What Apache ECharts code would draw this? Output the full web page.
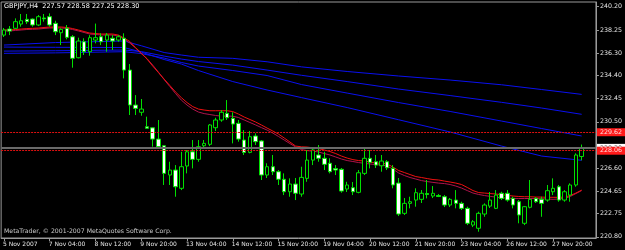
<!DOCTYPE html>
<html><head><meta charset="utf-8">
<script src="https://cdn.jsdelivr.net/npm/echarts@6/dist/echarts.min.js"></script>
<style>html,body{margin:0;padding:0;background:#000}#c{width:625px;height:250px}</style>
</head><body><div id="c"></div>
<script>
const titleText = 'GBPJPY,H4  227.57 228.58 227.25 228.30';
const copyrightText = 'MetaTrader, \u00A9 2001-2007 MetaQuotes Software Corp.';
const tickLabels = ['5 Nov 2007','7 Nov 04:00','8 Nov 12:00','9 Nov 20:00','13 Nov 04:00','14 Nov 12:00','15 Nov 20:00','19 Nov 04:00','20 Nov 12:00','21 Nov 20:00','23 Nov 04:00','26 Nov 12:00','27 Nov 20:00'];
const tickStep = 8;
const emptyBarsRight = 2;
const yTicks = [240.20, 238.25, 236.30, 234.40, 232.45, 230.50, 226.60, 224.65, 222.75, 220.80];
const yMin = 220.70, yMax = 240.60;
const bidLevel = 228.30, resLevel = 229.62, supLevel = 228.06;

const opens = [237.81,238.32,238.38,238.74,239.14,239.16,238.66,239.25,239.36,238.80,238.01,238.38,237.67,235.90,237.25,236.41,237.39,237.67,237.39,237.54,237.39,237.54,234.86,231.91,231.30,230.08,229.99,229.04,228.48,226.01,226.43,224.89,226.77,227.97,227.33,228.48,228.60,230.00,230.65,231.21,230.79,230.37,228.96,227.92,229.30,228.88,226.01,226.71,226.29,225.65,224.60,225.25,224.41,225.73,227.27,227.70,227.42,227.00,226.56,226.49,224.83,224.94,224.55,226.15,227.42,227.13,226.79,227.13,226.57,225.33,222.78,223.62,223.90,223.96,224.45,224.24,224.28,224.18,223.48,223.90,223.62,223.20,221.79,221.52,222.72,223.39,223.20,224.47,224.47,224.04,223.76,221.94,223.29,224.04,223.96,223.90,224.60,225.02,223.90,224.32,225.17,227.57];
const highs = [238.41,238.57,239.22,239.59,239.59,239.22,239.50,239.59,239.64,239.02,238.38,238.66,237.81,237.59,237.54,237.81,238.78,237.96,237.98,237.81,237.81,237.96,235.37,232.75,232.42,230.93,230.00,230.65,228.54,227.13,226.85,227.97,228.12,228.96,228.96,228.96,230.31,230.84,231.49,232.33,231.30,230.65,229.80,229.72,229.52,228.96,227.00,227.70,226.43,226.15,225.73,225.76,226.71,228.12,228.26,228.54,227.97,227.42,226.85,226.60,225.44,225.42,226.43,228.26,228.12,227.70,227.70,227.27,226.85,225.76,224.07,224.18,224.89,224.74,225.59,225.08,224.41,224.32,224.07,224.74,223.76,223.34,222.21,222.92,223.62,224.58,224.74,224.60,224.74,224.18,223.90,223.40,225.59,224.15,224.18,225.17,225.73,225.17,224.74,225.31,227.84,228.58];
const lows = [237.65,237.81,238.32,238.52,238.74,238.52,238.57,238.94,238.52,237.81,236.97,237.45,235.06,235.85,236.13,236.07,237.11,236.97,236.41,236.55,237.25,234.16,231.07,231.07,231.01,229.89,228.40,228.26,225.17,225.17,224.18,224.74,226.15,226.57,227.13,228.31,228.45,229.72,230.50,230.65,228.68,228.82,227.70,227.84,228.54,225.59,225.76,226.01,225.17,224.32,224.18,223.90,224.18,225.44,226.85,227.13,226.43,226.15,226.01,224.52,224.58,224.32,224.47,226.01,226.57,226.60,226.29,226.43,224.89,222.55,222.64,223.20,223.34,223.65,224.04,224.07,224.15,223.31,223.31,223.20,223.06,221.79,221.62,221.23,222.49,223.23,223.14,223.90,223.76,223.20,221.94,221.79,223.20,223.65,222.49,223.76,224.32,223.76,223.76,223.76,225.02,227.25];
const closes = [238.24,238.15,238.94,239.02,238.94,238.66,239.36,239.18,238.66,238.09,238.29,237.62,235.85,237.31,236.41,237.59,237.59,237.25,237.81,237.31,237.67,234.86,231.91,231.63,231.57,229.95,229.04,228.40,226.15,226.43,225.02,226.71,227.97,227.33,228.40,228.68,230.23,230.65,231.30,230.84,230.31,229.04,227.92,229.24,228.82,226.01,226.71,226.29,225.65,224.60,225.25,224.47,225.81,227.27,228.12,227.42,226.91,226.29,226.43,224.66,225.17,224.60,226.20,227.42,227.08,226.85,227.19,226.62,225.17,222.72,223.62,223.76,224.52,224.47,224.37,224.47,224.20,223.48,223.96,223.62,223.20,221.94,222.07,222.78,223.48,223.90,224.32,224.04,223.90,223.48,222.64,223.34,223.96,223.76,223.62,224.69,224.89,223.90,224.60,225.17,227.70,228.30];

const maRedFast = [238.24,238.24,238.28,238.32,238.36,238.38,238.40,238.45,238.49,238.49,238.49,238.45,238.36,238.24,238.11,237.98,237.94,237.90,237.90,237.90,237.81,237.56,237.27,236.76,236.30,235.79,235.20,234.65,234.10,233.56,233.01,232.54,232.12,231.78,231.57,231.49,231.43,231.43,231.43,231.43,231.36,231.15,230.90,230.69,230.48,230.23,229.97,229.72,229.46,229.13,228.79,228.45,228.39,228.37,228.30,228.24,228.12,227.99,227.82,227.61,227.44,227.31,227.23,227.19,227.11,227.02,227.00,226.94,226.68,226.39,226.22,226.05,225.88,225.80,225.71,225.63,225.59,225.50,225.42,225.33,225.21,224.96,224.70,224.53,224.49,224.45,224.41,224.35,224.30,224.24,224.20,224.18,224.18,224.15,224.15,224.13,224.13,224.13,224.15,224.28,224.49,224.74];
const maRedSlow = [238.16,238.16,238.20,238.24,238.28,238.30,238.32,238.37,238.41,238.41,238.41,238.37,238.28,238.16,238.03,237.90,237.86,237.82,237.82,237.82,237.73,237.48,237.14,236.72,236.25,235.83,235.28,234.69,234.06,233.47,232.88,232.33,231.91,231.57,231.32,231.19,231.11,231.03,230.98,230.98,230.97,230.86,230.65,230.44,230.23,230.01,229.80,229.55,229.26,228.96,228.66,228.37,228.16,228.07,228.03,227.95,227.82,227.70,227.53,227.36,227.23,227.15,227.06,227.00,226.94,226.89,226.85,226.77,226.51,226.18,225.97,225.80,225.67,225.54,225.46,225.39,225.33,225.29,225.21,225.08,224.91,224.70,224.49,224.37,224.28,224.21,224.15,224.09,224.07,224.04,224.03,224.03,224.03,224.03,224.01,223.99,223.96,223.99,224.04,224.20,224.45,224.70];

const blueIdx = [0,9,21,24,28,31,34,40,46,52,60,69,78,87,94,101];
const maBlue1 = [236.97,237.18,237.31,236.91,236.34,236.13,235.94,235.85,235.56,235.13,234.74,234.36,234.02,233.62,233.22,232.81];
const maBlue2 = [236.46,236.49,236.55,236.42,236.04,235.79,235.58,235.28,234.86,234.42,233.89,233.26,232.71,232.14,231.66,231.13];
const maBlue3 = [236.27,236.31,236.41,236.25,235.87,235.50,235.20,234.82,234.40,233.64,232.92,232.12,231.37,230.56,229.93,229.30];
const maBlue4 = [236.80,236.78,236.76,236.38,235.75,235.37,234.82,233.89,233.18,232.54,231.70,230.67,229.64,228.45,227.61,227.25];

const FONT = 'DejaVu Sans';
const nCat = opens.length + emptyBarsRight;
const cats = Array.from({length: nCat}, (_, i) => String(i));
const isTick = i => i % tickStep === 0 && i / tickStep < tickLabels.length;
const candles = opens.map((o, i) => [o, closes[i], lows[i], highs[i]]);
const bluePairs = arr => blueIdx.map((b, k) => [b, arr[k]]);

const lineS = (name, data, color, z) => ({
  type: 'line', name, data, symbol: 'none', connectNulls: true, silent: true, z,
  lineStyle: {color, width: 1}, animation: false
});

const priceLabel = (bg, fg) => ({
  show: true, position: 'end', distance: 1, formatter: p => p.value.toFixed(2),
  backgroundColor: bg, color: fg, padding: [1, 3, 1, 3], fontSize: 6.3, fontFamily: FONT
});

const chart = echarts.init(document.getElementById('c'), null, {renderer: 'canvas'});
chart.setOption({
  backgroundColor: '#000000',
  animation: false,
  title: {text: titleText, left: 4, top: 3, padding: 0,
    textStyle: {color: '#ffffff', fontSize: 6.5, fontWeight: 'normal', fontFamily: FONT}},
  graphic: [{type: 'text', left: 4, top: 228, z: 100,
    style: {text: copyrightText, fill: '#c8c8c8', font: '6.2px "DejaVu Sans"'}}],
  grid: {left: 0, right: 28, top: 2, bottom: 12, show: true, borderColor: '#9a9a9a', borderWidth: 1, backgroundColor: '#000'},
  xAxis: {
    type: 'category', data: cats, boundaryGap: true,
    axisLine: {show: true, lineStyle: {color: '#9a9a9a', width: 1}},
    axisTick: {show: true, alignWithLabel: true, length: 3, interval: (i) => isTick(i), lineStyle: {color: '#9a9a9a'}},
    axisLabel: {show: true, interval: (i) => isTick(i), align: 'left', margin: 3,
      formatter: (v) => { const i = +v; return isTick(i) ? tickLabels[i / tickStep] : ''; },
      color: '#e6e6e6', fontSize: 6, fontFamily: FONT, padding: [0, 0, 0, -1]},
    splitLine: {show: false}
  },
  yAxis: {
    type: 'value', position: 'right', min: yMin, max: yMax, scale: true,
    axisLine: {show: true, lineStyle: {color: '#9a9a9a', width: 1}},
    axisTick: {show: true, length: 3, customValues: yTicks, lineStyle: {color: '#9a9a9a'}},
    axisLabel: {show: true, customValues: yTicks, margin: 4, formatter: v => v.toFixed(2),
      color: '#e6e6e6', fontSize: 6.3, fontFamily: FONT},
    splitLine: {show: false}
  },
  series: [
    lineS('MA blue 1', bluePairs(maBlue1), '#0a10f0', 2),
    lineS('MA blue 2', bluePairs(maBlue2), '#0a10f0', 2),
    lineS('MA blue 3', bluePairs(maBlue3), '#0a10f0', 2),
    lineS('MA blue 4', bluePairs(maBlue4), '#0a10f0', 2),
    lineS('MA red slow', maRedSlow, '#b0124c', 3),
    lineS('MA red fast', maRedFast, '#f01010', 3),
    {
      type: 'candlestick', name: 'GBPJPY', data: candles, barWidth: 4, z: 4, silent: true,
      itemStyle: {color: '#000000', color0: '#ffffff', borderColor: '#00e000', borderColor0: '#00e000', borderWidth: 1},
      markLine: {
        silent: true, symbol: ['none', 'none'], animation: false,
        data: [
          {yAxis: bidLevel, lineStyle: {color: '#6a6a6a', width: 2, type: 'solid'}, label: priceLabel('#ffffff', '#505050')},
          {yAxis: resLevel, lineStyle: {color: '#e01010', width: 1, type: [2, 1]}, label: priceLabel('#ff1a1a', '#ffe0e0')},
          {yAxis: supLevel, lineStyle: {color: '#e01010', width: 1, type: [2, 1]}, label: priceLabel('#ff1a1a', '#ffe0e0')}
        ]
      }
    }
  ]
});
</script></body></html>
